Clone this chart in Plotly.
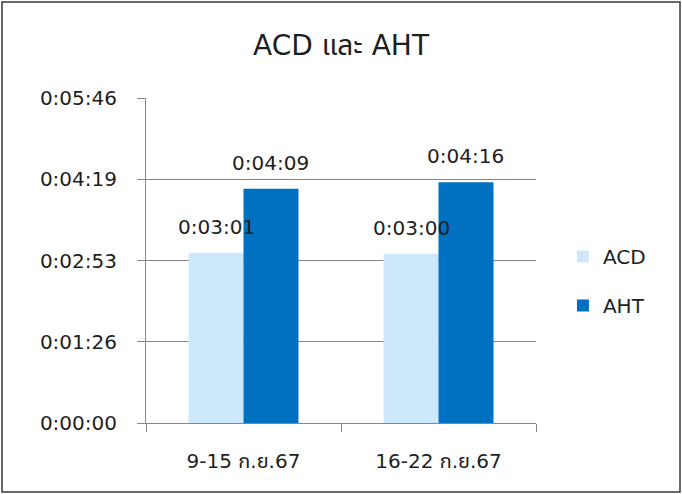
import plotly.graph_objects as go

# weeks (categories) and times in seconds
weeks = ["9-15 ก.ย.67", "16-22 ก.ย.67"]
acd_sec = [181, 180]
aht_sec = [249, 256]

# y ticks are 0.001-day steps, as Excel does it
tick_sec = [0, 86.4, 172.8, 259.2, 345.6]
tick_text = ["0:00:00", "0:01:26", "0:02:53", "0:04:19", "0:05:46"]


def hms(s):
    s = int(round(s))
    return f"{s // 3600}:{(s % 3600) // 60:02d}:{s % 60:02d}"


W, H = 682, 494
M = dict(l=146, r=146, t=98, b=71)
FONT = "DejaVu Sans, Noto Sans Thai, Loma, sans-serif"
TXT = "#1e1e1e"
BARGAP = 0.436

fig = go.Figure()

series = [("ACD", acd_sec, "#CCE8FA"), ("AHT", aht_sec, "#0070C0")]
for name, vals, col in series:
    fig.add_trace(go.Bar(
        x=weeks, y=vals, name=name,
        marker=dict(color=col, line=dict(width=0)),
        legendgroup=name,
    ))

# value labels above bars (Excel leaves a bigger gap than plotly's outside text)
pw = W - M["l"] - M["r"]
ph = H - M["t"] - M["b"]
bar_px = pw / len(weeks) * (1 - BARGAP) / len(series)
for i, (name, vals, col) in enumerate(series):
    for wk, v in zip(weeks, vals):
        fig.add_annotation(
            x=wk, y=v, text=hms(v), showarrow=False,
            xshift=(i - (len(series) - 1) / 2) * bar_px,
            yanchor="middle", yshift=26,
            font=dict(size=20, color=TXT, family=FONT),
        )

# frame around the whole chart, in paper units
fig.add_shape(
    type="rect", xref="paper", yref="paper",
    x0=-(M["l"] - 2) / pw, x1=1 + (M["r"] - 2) / pw,
    y0=-(M["b"] - 2) / ph, y1=1 + (M["t"] - 2) / ph,
    line=dict(color="#3a3a3a", width=1.5),
)

fig.update_layout(
    width=W, height=H,
    margin=M,
    paper_bgcolor="white",
    plot_bgcolor="white",
    font=dict(family=FONT, size=20, color=TXT),
    title=dict(text="ACD และ AHT", x=0.5, xanchor="center",
               y=1 - 45 / H, yanchor="middle",
               font=dict(size=28, color=TXT)),
    barmode="group",
    bargap=BARGAP,
    bargroupgap=0,
    showlegend=True,
    legend=dict(x=1.069, xanchor="left", y=0.437, yanchor="middle",
                tracegroupgap=20, traceorder="grouped",
                font=dict(size=20), bgcolor="rgba(0,0,0,0)"),
    xaxis=dict(
        tickson="boundaries", ticks="outside", ticklen=8,
        tickcolor="#868686", showline=True, linecolor="#868686",
        showgrid=False, ticklabelstandoff=20,
    ),
    yaxis=dict(
        range=[0, 345.6], tickvals=tick_sec, ticktext=tick_text,
        ticks="outside", ticklen=8, tickcolor="#868686",
        showline=True, linecolor="#868686",
        showgrid=True, gridcolor="#868686", gridwidth=1,
        zeroline=False, ticklabelstandoff=16,
    ),
)

fig.write_html("out.html", config={"displayModeBar": False},
               post_script="document.body.style.margin='0';")
